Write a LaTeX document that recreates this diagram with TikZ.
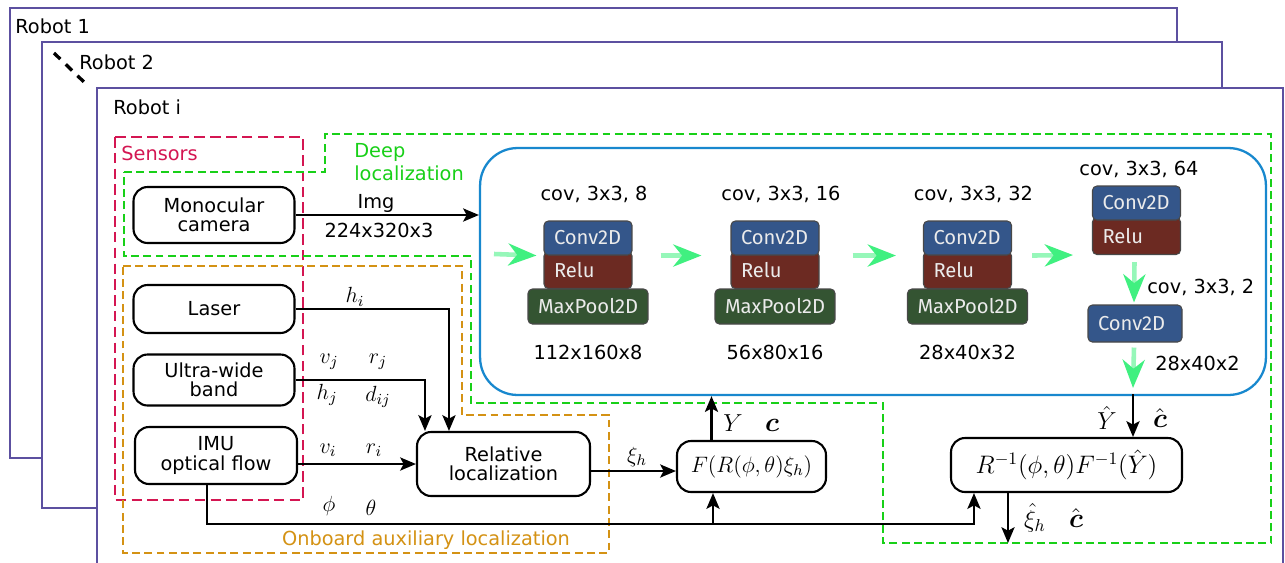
\documentclass[tikz,border=0pt]{standalone}
\usepackage{fix-cm}
\usepackage[no-math]{fontspec}
\setmainfont{DejaVu Sans}
\newfontfamily\layerfont{Fira Sans}
\usepackage{amsmath}
\usepackage{tikz}
\usetikzlibrary{arrows.meta,positioning}
\usepackage{xcolor}

\definecolor{robotpurple}{RGB}{92,80,160}
\definecolor{sensorred}{RGB}{212,22,82}
\definecolor{deepgreen}{RGB}{24,208,24}
\definecolor{auxorange}{RGB}{212,146,20}
\definecolor{cnnblue}{RGB}{24,136,206}
\definecolor{flowgreen}{RGB}{64,240,128}
\definecolor{convblue}{RGB}{52,86,138}
\definecolor{relured}{RGB}{108,42,34}
\definecolor{poolgreen}{RGB}{52,84,50}
\definecolor{layeredge}{RGB}{72,72,72}

\begin{document}
\begin{tikzpicture}[x=0.02cm, y=-0.02cm,
    robotframe/.style={draw=robotpurple, line width=1.2pt, fill=white},
    robotlabel/.style={anchor=west, inner xsep=0pt, font=\fontsize{11}{13}\selectfont},
    region/.style={line width=1.3pt, dash pattern=on 4.5pt off 2.5pt},
    sensor/.style={draw, line width=1.2pt, rounded corners=8pt, align=center, inner sep=0pt, font=\fontsize{11}{11}\selectfont},
    mathbox/.style={draw, line width=1.2pt, rounded corners=8pt, inner sep=0pt, font=\fontsize{12.7}{15}\selectfont},
    conn/.style={line width=1.2pt, -{Stealth[length=9pt,width=7.5pt,inset=2pt]}},
    sym/.style={inner sep=1pt, font=\fontsize{12.5}{15}\selectfont},
    bigsym/.style={inner sep=1pt, font=\fontsize{14}{16}\selectfont},
    boldc/.style={inner sep=1pt, font=\fontsize{15.5}{17}\selectfont},
    note/.style={font=\fontsize{11}{13}\selectfont},
    layer/.style={draw=layeredge, line width=0.6pt, rounded corners=2.5pt, text=white!92!black, font=\layerfont\fontsize{11.5}{12}\selectfont, align=left, inner xsep=0.2cm, inner ysep=0pt},
    conv/.style={layer, fill=convblue, text width=1.36cm, minimum height=0.68cm},
    relu/.style={layer, fill=relured, text width=1.36cm, minimum height=0.74cm},
    pool/.style={layer, fill=poolgreen, text width=2.0cm, minimum height=0.7cm},
    flowarrow/.style={line width=2.6pt, draw=flowgreen!55, -{Stealth[length=16pt,width=12.5pt,inset=5pt,color=flowgreen]}}
]
    \useasboundingbox (0,0) rectangle (1285,562);

    % Stacked robot frames
    \draw[robotframe] (10,8) rectangle (1177,458);
    \node[robotlabel] (r1label) at (15,26) {Robot 1};
    \draw[robotframe] (42,42) rectangle (1222,508);
    \node[robotlabel] (r2label) at (79,62) {Robot 2};
    \draw[line width=1.9pt, dash pattern=on 5pt off 4.3pt] (54,53) -- (84,82);
    \draw[robotframe] (97,88) rectangle (1283,600);
    \node[robotlabel] (rilabel) at (113,107) {Robot i};

    % Dashed regions
    \draw[sensorred, line width=1.3pt, dash pattern=on 6pt off 3pt] (115,137) rectangle (303,500);
    \node[robotlabel, text=sensorred] (senslabel) at (121,153) {Sensors};
    \draw[deepgreen, region] (124,172) -- (325,172) -- (325,134) -- (1271,134) -- (1271,543)
        -- (883,543) -- (883,403) -- (471,403) -- (471,256) -- (124,256) -- cycle;
    \node[robotlabel, text=deepgreen, align=left] (deeplabel) at (354,162.5) {Deep\\localization};
    \draw[auxorange, region] (123,266) -- (462,266) -- (462,415) -- (609,415) -- (609,553) -- (123,553) -- cycle;
    \node[note, text=auxorange] (auxlabel) at (426,540) {Onboard auxiliary localization};

    % CNN
    \node[draw=cnnblue, line width=1.3pt, rounded corners=0.75cm, minimum width=15.72cm, minimum height=4.94cm] (cnn) at (873,271.5) {};
    \foreach \i/\x/\k/\dims in {1/588/8/112x160x8, 2/775/16/56x80x16, 3/967.5/32/28x40x32}{
        \node[relu] (relu\i) at (\x,270) {Relu};
        \node[conv] (conv\i) at (\x,238) {Conv2D};
        \node[pool] (pool\i) at (\x,306.5) {MaxPool2D};
        \node[note] (head\i) at (\x+6,194) {cov, 3x3, \k};
        \node[note] (size\i) at (\x,352) {\dims};
    }
    \node[relu] (relu4) at (1136.5,236) {Relu};
    \node[conv] (conv4) at (1136.5,203) {Conv2D};
    \node[note] (head4) at (1139,169) {cov, 3x3, 64};
    \node[conv, text width=1.48cm, minimum height=0.74cm] (conv5) at (1135,323.5) {Conv2D};
    \node[note, anchor=west, inner xsep=0pt] (head5) at (1147,287) {cov, 3x3, 2};
    \node[note, anchor=west, inner xsep=0pt] (size5) at (1155,363) {28x40x2};

    \coordinate (flowin) at (494,254);
    \coordinate (cnnout) at (1133,394);
    \draw[flowarrow] (flowin) -- ([shift={(-7,0)}]conv1.south west);
    \draw[flowarrow] ([shift={(28,0)}]conv1.south east) -- ([shift={(-29,0)}]conv2.south west);
    \draw[flowarrow] ([shift={(33,0)}]conv2.south east) -- ([shift={(-27,0)}]conv3.south west);
    \draw[flowarrow] ([shift={(20,0)}]conv3.south east) -- ([shift={(-19,0)}]relu4.south west);
    \draw[flowarrow] ([shift={(-2,7)}]relu4.south) -- ([shift={(-1,-2)}]conv5.north);
    \draw[flowarrow] ([shift={(-1,5)}]conv5.south) -- ([shift={(0,-6)}]cnnout);

    % Sensors and localization blocks
    \node[sensor, minimum width=3.22cm, minimum height=1.12cm] (cam) at (214,215) {Monocular\\camera};
    \node[sensor, minimum width=3.22cm, minimum height=0.96cm] (laser) at (214,309) {Laser};
    \node[sensor, minimum width=3.22cm, minimum height=1.02cm] (uwb) at (214,380) {Ultra-wide\\band};
    \node[sensor, minimum width=3.24cm, minimum height=1.14cm] (imu) at (216,455.5) {IMU\\optical flow};
    \node[sensor, minimum width=3.46cm, minimum height=1.28cm] (rel) at (503.5,464) {Relative\\localization};
    \node[mathbox, minimum width=2.98cm, minimum height=1.02cm] (fbox) at (751.5,466.5) {$F(R(\phi,\theta)\xi_h)$};
    \node[mathbox, font=\fontsize{14.4}{17}\selectfont, minimum width=4.62cm, minimum height=1.08cm] (rinv) at (1066.5,465) {$R^{-1}(\phi,\theta)F^{-1}(\hat{Y})$};

    % Connections
    \draw[conn] (cam.east) -- (cam.east -| cnn.west);
    \node[note] (imglabel) at (376,203) {Img};
    \node[note] (imgsize) at (379,230) {224x320x3};
    \draw[conn] (laser.east) -| ([shift={(33,0)}]rel.north west);
    \draw[conn] (uwb.east) -| ([shift={(9,0)}]rel.north west);
    \draw[conn] (imu.east |- rel.west) -- (rel.west);
    \draw[conn] ([shift={(0,7)}]rel.east) coordinate (xistart) -- (xistart -| fbox.west);
    \coordinate (angles) at (713,524);
    \draw[conn] ([shift={(-9,0)}]imu.south) |- (angles) -| ([shift={(24,0)}]rinv.south west);
    \draw[conn] (angles) -- (angles |- fbox.south);
    \draw[conn] ([shift={(-40,0)}]fbox.north) coordinate (fup) -- (fup |- cnn.south);
    \draw[conn] (cnnout) -- (cnnout |- rinv.north);
    \coordinate (xiout) at (1008,543);
    \draw[conn] (xiout |- rinv.south) -- (xiout);

    % Signal labels
    \node[sym] at (355,297) {$h_i$};
    \node[sym] at (329,362) {$v_j$};
    \node[sym] at (378,362) {$r_j$};
    \node[sym] at (327,395) {$h_j$};
    \node[sym] at (378,397) {$d_{ij}$};
    \node[sym] at (328,450) {$v_i$};
    \node[sym] at (374,450) {$r_i$};
    \node[sym] at (329,506) {$\phi$};
    \node[sym] at (371,508) {$\theta$};
    \node[sym] at (637,457) {$\xi_h$};
    \node[bigsym] at (733,423) {$Y$};
    \node[boldc] at (772,425) {$\boldsymbol{c}$};
    \node[bigsym] at (1107,418) {$\hat{Y}$};
    \node[boldc] at (1160,418) {$\hat{\boldsymbol{c}}$};
    \node[bigsym] at (1035,518) {$\hat{\xi}_h$};
    \node[boldc] at (1076,518) {$\hat{\boldsymbol{c}}$};

\end{tikzpicture}
\end{document}
